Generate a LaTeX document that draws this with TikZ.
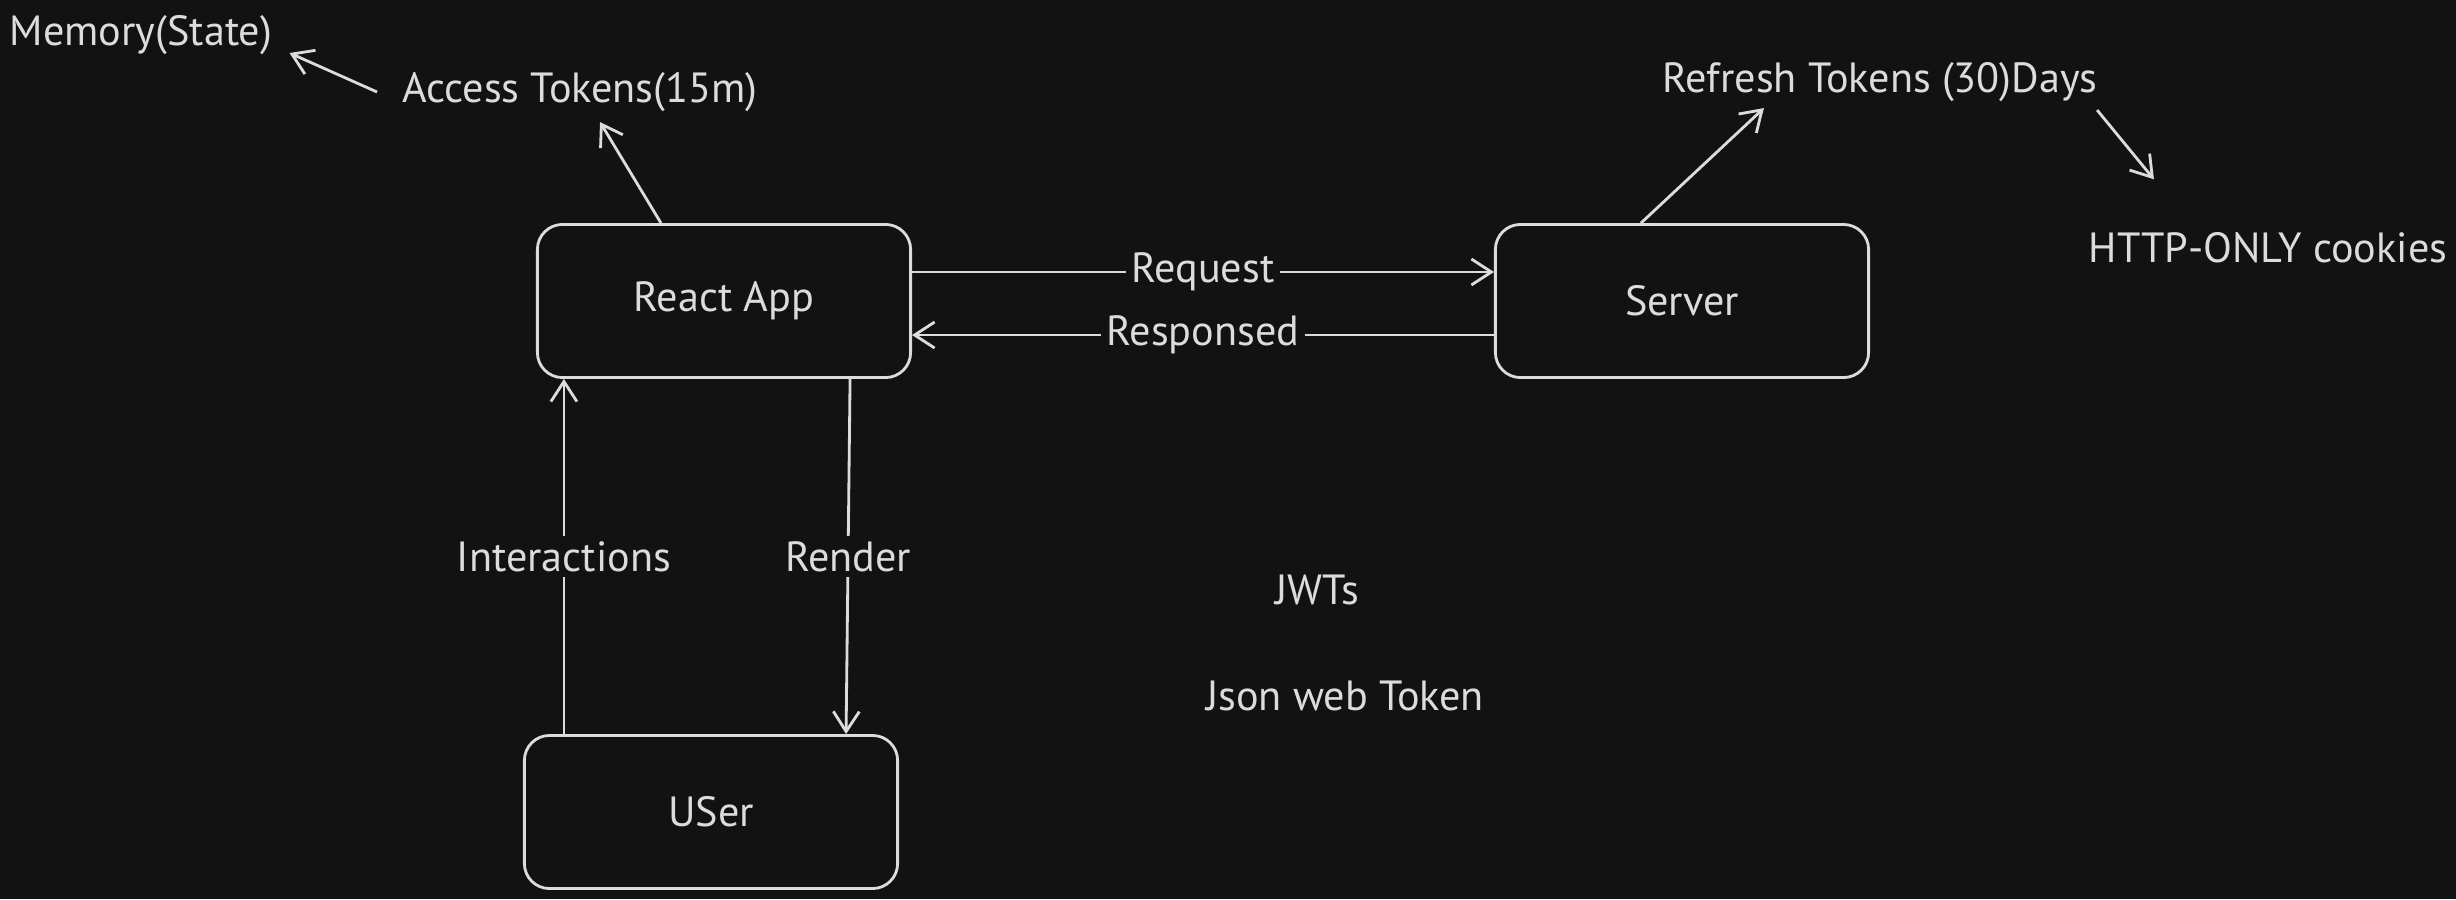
\documentclass[tikz,border=0pt]{standalone}
\usepackage{fontspec}
\setmainfont{PT Sans}
\usetikzlibrary{arrows.meta}
\definecolor{bg}{HTML}{121212}
\definecolor{ink}{HTML}{DCDCDC}

\tikzset{
	box/.style={draw, rounded corners=0.25cm, minimum width=3.73cm, minimum height=1.53cm},
	txt/.style={inner sep=0pt},
	on/.style={fill=bg, inner sep=1.5pt},
}

\begin{document}
\begin{tikzpicture}[x=0.01cm, y=-0.01cm, color=ink, line width=0.8pt,
	>={Straight Barb[length=0.2cm,width=0.26cm]}, font=\fontsize{12}{14}\selectfont]
	\fill[bg] (0,0) rectangle (2456,899);
	\useasboundingbox (0,0) rectangle (2456,899);

	\node[box] (react)  at (724,301)  {React App};
	\node[box] (server) at (1682,301) {Server};
	\node[box] (user)   at (711,812)  {USer};

	\node[txt] (memory)  at (141,35)   {Memory(State)};
	\node[txt] (access)  at (580,92)   {Access Tokens(15m)};
	\node[txt] (refresh) at (1880,82)  {Refresh Tokens (30)Days};
	\node[txt] (cookies) at (2268,248) {HTTP-ONLY cookies};
	\node[txt] (jwt)     at (1317,590) {JWTs};
	\node[txt] (json)    at (1345,696) {Json web Token};

	\draw[->] ([yshift=0.29cm]react.east) -- ([yshift=0.29cm]server.west) node[midway,on] {Request};
	\draw[->] ([yshift=-0.34cm]server.west) -- ([yshift=-0.34cm]react.east) node[midway,on] {Responsed};
	\draw[->] ([xshift=-1.47cm]user.north) -- ([xshift=-1.47cm]user.north |- react.south) node[midway,on] {Interactions};
	\draw[->] ([xshift=1.26cm]react.south) -- ([xshift=1.35cm]user.north) node[midway,on] {Render};

	\draw[->] ([xshift=-0.63cm]react.north) -- ([xshift=0.2cm,yshift=-0.09cm]access.south);
	\draw[->] ([xshift=-0.24cm,yshift=-0.0cm]access.west) -- ([xshift=0.16cm,yshift=-0.18cm]memory.east);
	\draw[->] ([xshift=-0.41cm]server.north) -- ([xshift=-1.16cm,yshift=-0.05cm]refresh.south);
	\draw[->] ([xshift=2.17cm,yshift=-0.07cm]refresh.south) -- ([xshift=-1.14cm,yshift=0.52cm]cookies.north);
\end{tikzpicture}
\end{document}
